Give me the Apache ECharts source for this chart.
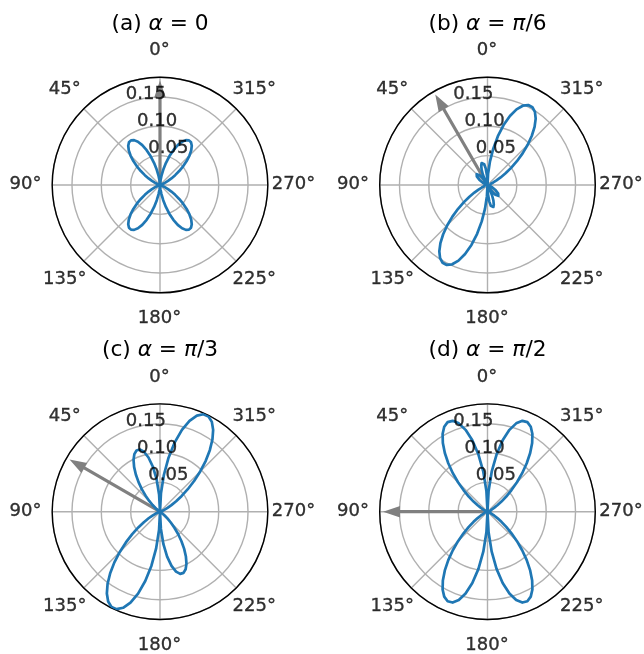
<!DOCTYPE html>
<html><head><meta charset="utf-8">
<script src="https://cdn.jsdelivr.net/npm/echarts/dist/echarts.min.js"></script>
<style>html,body{margin:0;padding:0;background:#fff}#c{width:644px;height:654px}</style>
</head><body><div id="c"></div>
<script>
// sample angles (degrees, counter-clockwise from top)
const theta = [0,3,6,9,12,15,18,21,24,27,30,33,36,39,42,45,48,51,54,57,60,63,66,69,72,75,78,81,84,87,
90,93,96,99,102,105,108,111,114,117,120,123,126,129,132,135,138,141,144,147,150,153,156,159,162,165,168,171,174,177,
180,183,186,189,192,195,198,201,204,207,210,213,216,219,222,225,228,231,234,237,240,243,246,249,252,255,258,261,264,267,
270,273,276,279,282,285,288,291,294,297,300,303,306,309,312,315,318,321,324,327,330,333,336,339,342,345,348,351,354,357,360];

// (a) alpha = 0
const rA = [0,0.0018,0.0072,0.0156,0.0264,0.0387,0.0514,0.0636,0.0743,0.0828,0.0883,0.0907,0.0899,0.0860,0.0795,0.0710,0.0611,0.0507,0.0404,0.0308,0.0224,0.0153,0.0098,0.0058,0.0031,0.0014,0.0006,0.0002,0,0,
0,0,0,0.0002,0.0006,0.0014,0.0031,0.0058,0.0098,0.0153,0.0224,0.0308,0.0404,0.0507,0.0611,0.0710,0.0795,0.0860,0.0899,0.0907,0.0883,0.0828,0.0743,0.0636,0.0514,0.0387,0.0264,0.0156,0.0072,0.0018,
0,0.0018,0.0072,0.0156,0.0264,0.0387,0.0514,0.0636,0.0743,0.0828,0.0883,0.0907,0.0899,0.0860,0.0795,0.0710,0.0611,0.0507,0.0404,0.0308,0.0224,0.0153,0.0098,0.0058,0.0031,0.0014,0.0006,0.0002,0,0,
0,0,0,0.0002,0.0006,0.0014,0.0031,0.0058,0.0098,0.0153,0.0224,0.0308,0.0404,0.0507,0.0611,0.0710,0.0795,0.0860,0.0899,0.0907,0.0883,0.0828,0.0743,0.0636,0.0514,0.0387,0.0264,0.0156,0.0072,0.0018,0];

// (b) alpha = pi/6
const rB = [0,0.0159,0.0280,0.0358,0.0393,0.0387,0.0346,0.0278,0.0191,0.0095,0,0.0087,0.0160,0.0214,0.0247,0.0260,0.0254,0.0234,0.0203,0.0167,0.0129,0.0094,0.0063,0.0039,0.0022,0.0011,0.0004,0.0001,0,0,
0,0,0,0.0001,0.0005,0.0014,0.0032,0.0061,0.0107,0.0172,0.0258,0.0367,0.0497,0.0645,0.0805,0.0969,0.1129,0.1275,0.1397,0.1484,0.1530,0.1529,0.1479,0.1380,0.1237,0.1057,0.0850,0.0628,0.0405,0.0191,
0,0.0159,0.0280,0.0358,0.0393,0.0387,0.0346,0.0278,0.0191,0.0095,0,0.0087,0.0160,0.0214,0.0247,0.0260,0.0254,0.0234,0.0203,0.0167,0.0129,0.0094,0.0063,0.0039,0.0022,0.0011,0.0004,0.0001,0,0,
0,0,0,0.0001,0.0005,0.0014,0.0032,0.0061,0.0107,0.0172,0.0258,0.0367,0.0497,0.0645,0.0805,0.0969,0.1129,0.1275,0.1397,0.1484,0.1530,0.1529,0.1479,0.1380,0.1237,0.1057,0.0850,0.0628,0.0405,0.0191,0];

// (c) alpha = pi/3
const rC = [0,0.0294,0.0557,0.0776,0.0944,0.1057,0.1114,0.1117,0.1074,0.0993,0.0883,0.0756,0.0622,0.0490,0.0367,0.0260,0.0171,0.0102,0.0052,0.0019,0,0.0009,0.0011,0.0010,0.0007,0.0004,0.0002,0.0001,0,0,
0,0,0,0.0001,0.0004,0.0011,0.0024,0.0048,0.0087,0.0144,0.0224,0.0328,0.0457,0.0609,0.0782,0.0969,0.1162,0.1349,0.1520,0.1663,0.1767,0.1821,0.1818,0.1754,0.1628,0.1444,0.1208,0.0932,0.0629,0.0313,
0,0.0294,0.0557,0.0776,0.0944,0.1057,0.1114,0.1117,0.1074,0.0993,0.0883,0.0756,0.0622,0.0490,0.0367,0.0260,0.0171,0.0102,0.0052,0.0019,0,0.0009,0.0011,0.0010,0.0007,0.0004,0.0002,0.0001,0,0,
0,0,0,0.0001,0.0004,0.0011,0.0024,0.0048,0.0087,0.0144,0.0224,0.0328,0.0457,0.0609,0.0782,0.0969,0.1162,0.1349,0.1520,0.1663,0.1767,0.1821,0.1818,0.1754,0.1628,0.1444,0.1208,0.0932,0.0629,0.0313,0];

// (d) alpha = pi/2
const rD = [0,0.0351,0.0685,0.0986,0.1243,0.1444,0.1583,0.1658,0.1670,0.1624,0.1530,0.1397,0.1237,0.1062,0.0883,0.0710,0.0550,0.0411,0.0294,0.0200,0.0129,0.0078,0.0044,0.0022,0.0010,0.0004,0.0001,0,0,0,
0,0,0,0,0.0001,0.0004,0.0010,0.0022,0.0044,0.0078,0.0129,0.0200,0.0294,0.0411,0.0550,0.0710,0.0883,0.1062,0.1237,0.1397,0.1530,0.1624,0.1670,0.1658,0.1583,0.1444,0.1243,0.0986,0.0685,0.0351,
0,0.0351,0.0685,0.0986,0.1243,0.1444,0.1583,0.1658,0.1670,0.1624,0.1530,0.1397,0.1237,0.1062,0.0883,0.0710,0.0550,0.0411,0.0294,0.0200,0.0129,0.0078,0.0044,0.0022,0.0010,0.0004,0.0001,0,0,0,
0,0,0,0,0.0001,0.0004,0.0010,0.0022,0.0044,0.0078,0.0129,0.0200,0.0294,0.0411,0.0550,0.0710,0.0883,0.1062,0.1237,0.1397,0.1530,0.1624,0.1670,0.1658,0.1583,0.1444,0.1243,0.0986,0.0685,0.0351,0];

const curves = [rA, rB, rC, rD];
const alphas = [0, 30, 60, 90];          // arrow direction, degrees
const arrowLength = 0.178;
const titles = ['(a) {i|α} = 0', '(b) {i|α} = {i|π}/6', '(c) {i|α} = {i|π}/3', '(d) {i|α} = {i|π}/2'];
const radialTicks = [0.05, 0.10, 0.15];
const radialTickLabels = ['0.05', '0.10', '0.15'];
const radialLabelAngle = 22.5;
const angleTicks = [0, 45, 90, 135, 180, 225, 270, 315];
const angleTickLabels = ['0°', '45°', '90°', '135°', '180°', '225°', '270°', '315°'];
const rMax = 0.1837;
const angleLabelRadius = 0.2284;

const centers = [[160, 185], [487.5, 185], [160, 511.7], [487.5, 511.7]];
const plotRadius = 107.8;
const FONT = 'DejaVu Sans';

const chart = echarts.init(document.getElementById('c'), null, {renderer: 'canvas'});

const tickText = {color: '#000', fontSize: 18, fontFamily: FONT, textBorderColor: '#000', textBorderWidth: 0.35};

const polar = [], angleAxis = [], radiusAxis = [], series = [], title = [];
for (let i = 0; i < 4; i++) {
  polar.push({center: centers[i], radius: plotRadius});
  angleAxis.push({
    polarIndex: i, type: 'value', min: 0, max: 360, interval: 45,
    startAngle: 90, clockwise: false, z: 2,
    axisLine: {show: true, lineStyle: {color: '#000', width: 1.4}},
    axisTick: {show: false}, axisLabel: {show: false},
    splitLine: {show: true, lineStyle: {color: '#b0b0b0', width: 1.4}}
  });
  radiusAxis.push({
    polarIndex: i, type: 'value', min: 0, max: rMax, interval: 0.05, z: 1,
    axisLine: {show: false}, axisTick: {show: false}, axisLabel: {show: false},
    splitLine: {show: true, lineStyle: {color: '#b0b0b0', width: 1.4}}
  });
  // arrow
  series.push({
    type: 'custom', coordinateSystem: 'polar', polarIndex: i, z: 3, silent: true, clip: false,
    data: [[arrowLength, alphas[i]]],
    renderItem: function (params, api) {
      const L = api.value(0), a = api.value(1);
      const p0 = api.coord([0, a]), p1 = api.coord([L, a]);
      const dx = p1[0] - p0[0], dy = p1[1] - p0[1];
      const len = Math.sqrt(dx * dx + dy * dy);
      const ux = dx / len, uy = dy / len, nx = -uy, ny = ux;
      const w = 1.6, hl = 17, hw = 5.8;
      const bx = p1[0] - ux * hl, by = p1[1] - uy * hl;
      const pts = [
        [p0[0] + nx * w, p0[1] + ny * w], [bx + nx * w, by + ny * w], [bx + nx * hw, by + ny * hw],
        [p1[0], p1[1]], [bx - nx * hw, by - ny * hw], [bx - nx * w, by - ny * w], [p0[0] - nx * w, p0[1] - ny * w]
      ];
      return {type: 'polygon', shape: {points: pts}, style: {fill: '#808080'}};
    }
  });
  // curve
  series.push({
    type: 'line', coordinateSystem: 'polar', polarIndex: i, z: 4,
    data: theta.map((t, k) => [curves[i][k], t]),
    showSymbol: false, symbol: 'none', smooth: false, clip: false,
    lineStyle: {color: '#1f77b4', width: 2.7, join: 'round'}
  });
  // radial tick labels
  series.push({
    type: 'scatter', coordinateSystem: 'polar', polarIndex: i, z: 6, silent: true, clip: false,
    symbolSize: 1, itemStyle: {color: 'rgba(0,0,0,0)'},
    data: radialTicks.map((r, k) => ({value: [r, radialLabelAngle], name: radialTickLabels[k]})),
    label: Object.assign({show: true, position: [0, 0], align: 'left', verticalAlign: 'bottom',
      formatter: p => p.name}, tickText)
  });
  // angle tick labels
  series.push({
    type: 'scatter', coordinateSystem: 'polar', polarIndex: i, z: 6, silent: true, clip: false,
    symbolSize: 1, itemStyle: {color: 'rgba(0,0,0,0)'},
    data: angleTicks.map((a, k) => ({value: [angleLabelRadius, a], name: angleTickLabels[k]})),
    label: Object.assign({show: true, position: [0, 0], align: 'center', verticalAlign: 'middle',
      formatter: p => p.name}, tickText)
  });
  title.push({
    text: titles[i], left: centers[i][0], top: centers[i][1] - 172, textAlign: 'center', padding: 0,
    textStyle: {fontSize: 21.7, fontWeight: 'normal', color: '#000', fontFamily: FONT,
      rich: {i: {fontSize: 21.7, fontStyle: 'italic', fontFamily: FONT, color: '#000'}}}
  });
}

chart.setOption({
  animation: false, backgroundColor: '#fff',
  title, polar, angleAxis, radiusAxis, series
});
</script></body></html>
